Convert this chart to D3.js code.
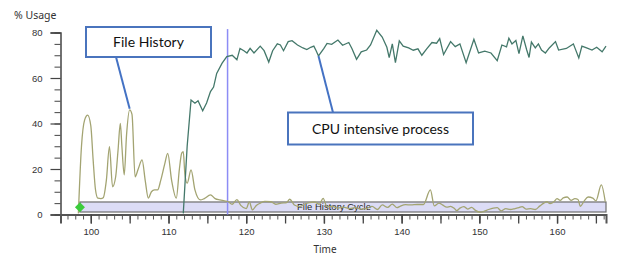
<!DOCTYPE html>
<html>
<head>
<meta charset="utf-8">
<style>
    body { margin: 0; background: #fff; }
    svg { display: block; font-family: 'Noto Sans', sans-serif; }
    .tick text { fill: #333; font-size: 9.5px; }
    .note { font-family: 'Lato', sans-serif; font-size: 14px; fill: #111; }
</style>
</head>
<body>
<svg width="620" height="257"></svg>

<script src="https://d3js.org/d3.v7.min.js"></script>
<script>
    // File History series (olive)
    let fhTime = [98.4, 98.8, 99.2, 99.6, 100.0, 100.3, 100.6, 100.9, 101.3, 101.6, 102.0, 102.4, 102.8, 103.2, 103.5, 103.8, 104.0, 104.3, 104.6, 105.0, 105.3, 105.7, 106.1, 106.6, 107.0, 107.4, 107.8, 108.2, 108.6, 109.0, 109.5, 109.9, 110.4, 111.0, 111.4, 111.7, 111.9, 112.1, 112.4, 112.9, 113.4, 114.1, 114.6, 115.4, 116.0, 116.6, 117.2, 117.7, 118.2, 118.8, 119.3, 120.0, 120.4, 120.8, 121.3, 121.8, 122.4, 123.2, 123.8, 124.5, 125.2, 125.6, 126.2, 126.9, 127.5, 128.1, 128.8, 129.4, 129.9, 130.4, 131.0, 131.8, 132.5, 133.3, 134.0, 134.8, 135.6, 136.2, 136.9, 137.5, 138.2, 138.8, 139.4, 139.8, 140.5, 141.2, 142.0, 142.8, 143.7, 144.2, 144.8, 145.3, 145.8, 146.3, 146.8, 147.1, 147.5, 148.0, 148.5, 149.0, 149.5, 150.1, 150.6, 151.2, 151.8, 152.3, 152.8, 153.4, 154.0, 154.6, 155.1, 155.5, 156.0, 156.6, 157.2, 157.8, 158.3, 158.7, 159.1, 159.6, 160.0, 160.4, 160.8, 161.3, 161.8, 162.3, 162.7, 163.0, 163.5, 164.0, 164.6, 165.0, 165.7, 166.2]
    let fhValue = [0.5, 30, 41.5, 43.7, 39, 24, 11, 7.2, 7, 7.4, 15, 29.8, 12.2, 16.6, 28, 40, 30, 17.4, 35, 46, 44, 16.6, 20, 24, 15, 7.2, 10, 10.8, 10.8, 15, 22, 26.9, 15, 7.2, 20, 27, 27.6, 18, 13.8, 19.6, 10.8, 6.4, 7, 8.6, 7, 6.4, 6, 5.6, 4.5, 6.5, 4, 2.6, 5.5, 2, 4, 5, 5.8, 5.6, 4.5, 5, 5.2, 6.7, 4.2, 3.5, 4.5, 5.2, 5.5, 4.5, 7.1, 3.4, 3.6, 2.8, 3.2, 2.6, 3.0, 2.4, 2.8, 3.6, 2.2, 4.2, 3.1, 4.6, 3.0, 3.6, 4.3, 4.2, 4.4, 4.4, 10.8, 3.8, 5, 4.1, 3.2, 3.6, 2.6, 1.7, 2.8, 3.5, 2.4, 3.1, 1.8, 1.0, 1.4, 2.2, 2.8, 3.0, 1.6, 2.6, 2.2, 2.6, 3.0, 3.5, 2.4, 2.6, 2.2, 3.8, 5.0, 5.6, 4.8, 5.6, 7.0, 6.2, 7.3, 7.7, 6.2, 7.0, 6.6, 3.6, 6.0, 7.7, 7.2, 6.0, 13.0, 5.6]

    // CPU intensive process series (teal)
    let cpuTime = [111.9, 112.4, 112.9, 113.4, 113.8, 114.4, 114.9, 115.4, 115.8, 116.2, 116.9, 117.5, 118.2, 118.8, 119.2, 119.7, 120.1, 120.5, 121.0, 121.8, 122.3, 122.9, 123.4, 124.0, 124.4, 124.8, 125.4, 125.9, 126.6, 127.3, 127.8, 128.3, 128.7, 129.0, 129.3, 130.0, 130.4, 131.0, 131.8, 132.4, 133.2, 133.6, 134.2, 134.8, 135.5, 136.0, 136.8, 137.5, 138.1, 138.4, 138.8, 139.2, 139.7, 140.2, 140.9, 141.5, 142.1, 142.6, 143.2, 143.9, 144.5, 144.9, 145.4, 146.3, 146.9, 147.5, 148.3, 149.3, 149.9, 150.7, 151.5, 152.3, 152.9, 153.5, 153.8, 154.2, 154.7, 155.1, 155.6, 156.1, 156.4, 156.7, 157.2, 157.6, 158.0, 158.5, 159.0, 159.8, 160.2, 161.2, 162.1, 162.8, 163.2, 163.8, 164.5, 165.1, 165.8, 166.3]
    let cpuValue = [0.5, 30, 50.3, 48.9, 50, 45.6, 49, 54, 56, 62, 66.5, 69.4, 70, 68, 73, 72, 71, 73, 71, 74, 72, 67, 72, 75, 74.5, 72, 76, 76.4, 74.5, 73.2, 72.5, 73.5, 74, 72, 69.7, 73, 75.2, 74.8, 76.7, 74.4, 75.6, 73, 68.2, 71.5, 72.3, 74.5, 81, 78, 73.5, 69, 75, 66.8, 76.3, 74, 73.2, 72.2, 72.8, 70, 72.7, 75.6, 75.3, 77.3, 70.3, 76, 73.8, 75, 66.7, 77, 71, 71.8, 71, 67.6, 74.5, 73.7, 77.5, 75, 76.5, 70.7, 78.5, 72.3, 69, 75.8, 73.2, 75, 72.3, 71, 73.2, 76, 72.3, 73, 75, 68.8, 74, 73.2, 72.3, 73.5, 71.5, 74]

    // File History Cycle band, marker, event line
    let cycleLabel = "File History Cycle"
    let cycleStart = 98.6
    let cycleEnd = 166.3
    let cycleRange = [1.1, 5.5]
    let markerTime = 98.6
    let markerValue = 3.2
    let eventTime = 117.6

    // callouts: text and the point each one points at
    let callouts = [
        { label: "File History", t: 105.0, v: 46.5, box: [86, 27, 125, 30], from: [116, 57] },
        { label: "CPU intensive process", t: 129.3, v: 69.7, box: [288, 112.5, 185, 32], from: [333, 112.5] }
    ]

    let yTicks = [0, 20, 40, 60, 80]
    let xTicks = [100, 110, 120, 130, 140, 150, 160]

    let svg = d3.select("svg")

    let x = d3.scaleLinear()
        .domain([96.1, 166.3])
        .range([60.5, 606])

    let y = d3.scaleLinear()
        .domain([0, 80])
        .range([214.5, 32.5])

    // band
    svg.append("rect")
        .attr("x", x(cycleStart))
        .attr("y", y(cycleRange[1]))
        .attr("width", x(cycleEnd) - x(cycleStart))
        .attr("height", y(cycleRange[0]) - y(cycleRange[1]))
        .style("fill", "#dcdcf6")
        .style("stroke", "#6e6e6e")
        .style("stroke-width", 1.2)

    svg.append("text")
        .attr("x", x(131.3))
        .attr("y", y(cycleRange[0]) - 2)
        .attr("text-anchor", "middle")
        .style("font-family", "'Liberation Sans', sans-serif")
        .style("font-size", "9.5px")
        .style("fill", "#2a2a2a")
        .text(cycleLabel)

    // axes
    let minorY = d3.range(0, 81, 5)
    svg.append("g")
        .attr("transform", "translate(60.5,0)")
        .call(d3.axisLeft(y).tickValues(minorY).tickSize(6).tickFormat(""))
        .call(g => g.selectAll(".tick line").style("stroke", "#444"))
        .call(g => g.select(".domain").remove())

    svg.append("g")
        .attr("transform", "translate(60.5,0)")
        .call(d3.axisLeft(y).tickValues(yTicks).tickSize(10).tickPadding(8))
        .call(g => g.select(".domain").style("stroke", "#444").style("stroke-width", 1.5))
        .call(g => g.selectAll(".tick line").style("stroke", "#444").style("stroke-width", 1.2))

    let minorX = d3.range(97, 167, 1)
    let midX = d3.range(95, 167, 5).filter(d => d > 96)
    svg.append("g")
        .attr("transform", "translate(0,214.5)")
        .call(d3.axisBottom(x).tickValues(minorX).tickSize(5).tickFormat(""))
        .call(g => g.selectAll(".tick line").style("stroke", "#555"))
        .call(g => g.select(".domain").remove())

    svg.append("g")
        .attr("transform", "translate(0,214.5)")
        .call(d3.axisBottom(x).tickValues(midX).tickSize(9).tickFormat(""))
        .call(g => g.selectAll(".tick line").style("stroke", "#444").style("stroke-width", 1.3))
        .call(g => g.select(".domain").remove())

    svg.append("g")
        .attr("transform", "translate(0,214.5)")
        .call(d3.axisBottom(x).tickValues(xTicks).tickSize(9).tickPadding(5))
        .call(g => g.select(".domain").style("stroke", "#555").style("stroke-width", 2))
        .call(g => g.selectAll(".tick line").style("stroke", "#444").style("stroke-width", 1.3))

    svg.append("text")
        .attr("x", 14)
        .attr("y", 19)
        .style("font-size", "10.5px")
        .style("fill", "#333")
        .text("% Usage")

    svg.append("text")
        .attr("x", 325)
        .attr("y", 253)
        .attr("text-anchor", "middle")
        .style("font-size", "10px")
        .style("fill", "#333")
        .text("Time")

    // event line
    svg.append("line")
        .attr("x1", x(eventTime))
        .attr("x2", x(eventTime))
        .attr("y1", y(81.5))
        .attr("y2", y(0))
        .style("stroke", "#8c8cf5")
        .style("stroke-width", 1.5)

    // series
    let smooth = d3.line()
        .x(d => x(d[0]))
        .y(d => y(d[1]))
        .curve(d3.curveMonotoneX)

    let line = d3.line()
        .x(d => x(d[0]))
        .y(d => y(d[1]))

    svg.append("path")
        .datum(d3.zip(fhTime, fhValue))
        .attr("d", smooth)
        .style("fill", "none")
        .style("stroke", "#a3a472")
        .style("stroke-width", 1.3)

    svg.append("path")
        .datum(d3.zip(cpuTime, cpuValue))
        .attr("d", line)
        .style("fill", "none")
        .style("stroke", "#44786a")
        .style("stroke-width", 1.3)

    // start marker
    svg.append("path")
        .attr("d", d3.symbol(d3.symbolSquare, 50))
        .attr("transform", "translate(" + x(markerTime) + "," + y(markerValue) + ") rotate(45)")
        .style("fill", "#3ccc3c")

    // callouts
    callouts.forEach(c => {
        svg.append("line")
            .attr("x1", c.from[0])
            .attr("y1", c.from[1])
            .attr("x2", x(c.t))
            .attr("y2", y(c.v))
            .style("stroke", "#4472c4")
            .style("stroke-width", 2)

        svg.append("rect")
            .attr("x", c.box[0])
            .attr("y", c.box[1])
            .attr("width", c.box[2])
            .attr("height", c.box[3])
            .style("fill", "#fff")
            .style("stroke", "#4a74bd")
            .style("stroke-width", 2)

        svg.append("text")
            .attr("class", "note")
            .attr("x", c.box[0] + c.box[2] / 2)
            .attr("y", c.box[1] + c.box[3] / 2 + 5)
            .attr("text-anchor", "middle")
            .text(c.label)
    })
</script>
</body>
</html>
